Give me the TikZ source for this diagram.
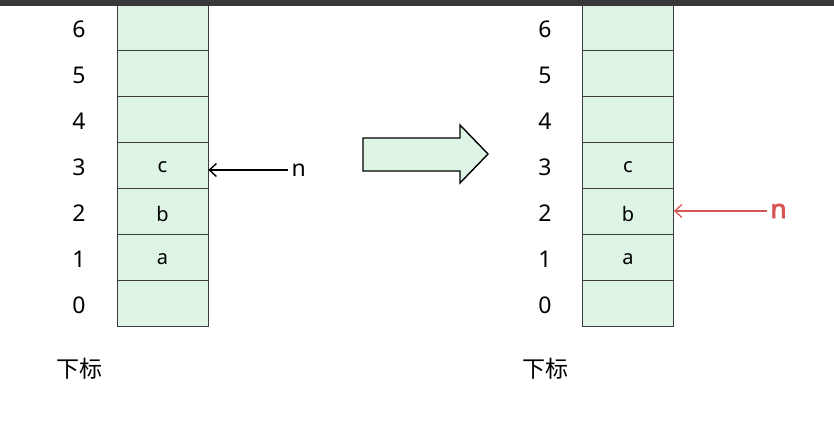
\documentclass[tikz,border=0pt]{standalone}
\usepackage{fontspec}
\setmainfont{Noto Sans}
\newfontfamily\cjk{Noto Sans CJK SC}
\newfontfamily\boldsans{Noto Sans}[FakeBold=3]
\usetikzlibrary{arrows.meta}
\definecolor{cellgreen}{RGB}{222,244,228}
\definecolor{cellline}{RGB}{60,60,60}
\definecolor{ptrred}{RGB}{214,84,84}
\tikzset{
  cell/.style={draw=cellline, fill=cellgreen, line width=0.8pt,
    minimum width=91pt, minimum height=46pt, inner sep=0pt,
    font=\fontsize{20}{20}\selectfont},
  celltext/.style={font=\fontsize{20}{20}\selectfont, yshift=-2pt},
  idx/.style={font=\fontsize{23}{23}\selectfont, yshift=-2pt},
  ptr/.style={-{Straight Barb[length=7pt,width=13pt]}, line width=1.4pt}
}
\begin{document}
\begin{tikzpicture}[x=1pt, y=-1pt]
  \useasboundingbox (0,0) rectangle (834,422);
  % left array
  \foreach \i in {0,...,6} {
    \node[cell] (L\i) at (162.5, 303.5-46*\i) {};
    \node[idx] (li\i) at (79, 303.5-46*\i) {\i};
  }
  \node[celltext] (la) at (L1) {a};
  \node[celltext] (lb) at (L2) {b};
  \node[celltext] (lc) at (L3) {c};
  \node[font=\cjk\fontsize{23}{23}\selectfont] (lsub) at (79, 369) {下标};
  \node[idx, anchor=west] (ln) at (288, 168) {n};
  \draw[ptr] (ln.west) -- (L3.east |- ln.west);
  % big arrow
  \draw[fill=cellgreen, line width=1.4pt]
    (363,138) -- (460,138) -- (460,125) -- (488,154) -- (460,183)
    -- (460,171) -- (363,171) -- cycle;
  % right array
  \foreach \i in {0,...,6} {
    \node[cell] (R\i) at (628, 303.5-46*\i) {};
    \node[idx] (ri\i) at (545, 303.5-46*\i) {\i};
  }
  \node[celltext] (ra) at (R1) {a};
  \node[celltext] (rb) at (R2) {b};
  \node[celltext] (rc) at (R3) {c};
  \node[font=\cjk\fontsize{23}{23}\selectfont] (rsub) at (545, 369) {下标};
  \node[anchor=west, text=ptrred, font=\boldsans\fontsize{26}{26}\selectfont] (rn) at (767, 211) {n};
  \draw[ptr, draw=ptrred, line width=1.3pt] (rn.west) -- (R2.east |- rn.west);
  % top bar
  \fill[black!78] (0,0) rectangle (834,6);
\end{tikzpicture}
\end{document}
